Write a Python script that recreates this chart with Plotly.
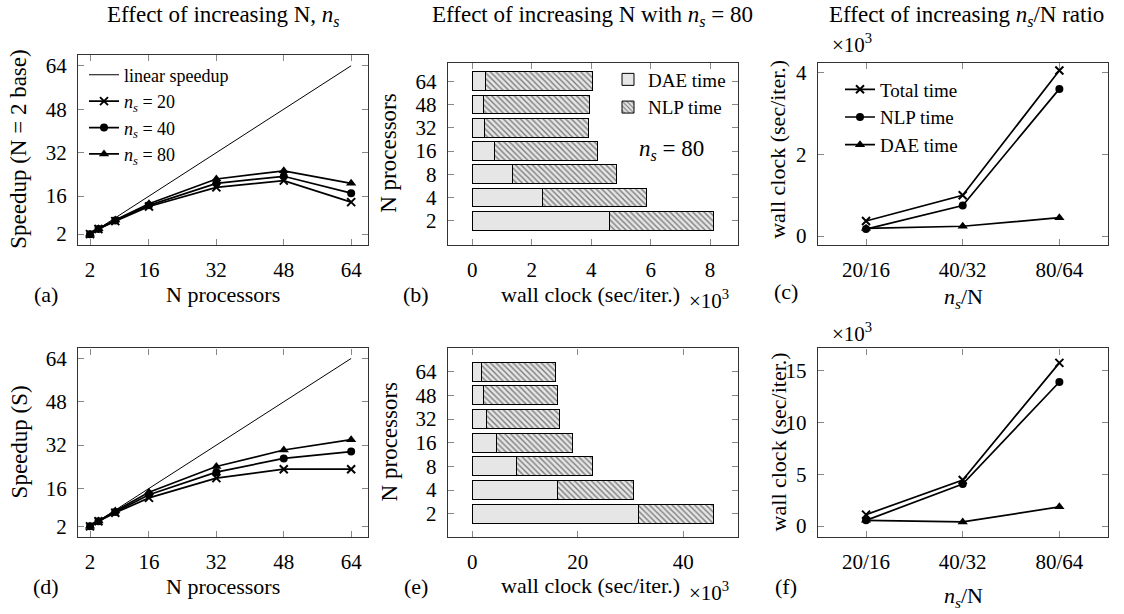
import plotly.graph_objects as go

# ---------------- data ----------------
N_proc = [2, 4, 8, 16, 32, 48, 64]
N_labels = ["2", "4", "8", "16", "32", "48", "64"]
linear_speedup = [2, 4, 8, 16, 32, 48, 64]

# (a) speedup, N = 2 base
speedup_a_ns20 = [2, 3.9, 6.8, 12.2, 19.2, 21.7, 13.8]
speedup_a_ns40 = [2, 3.9, 7.0, 12.6, 20.7, 23.3, 17.1]
speedup_a_ns80 = [2, 4.0, 7.2, 13.2, 22.3, 25.3, 20.7]

# (d) speedup (S)
speedup_d_ns20 = [2, 3.9, 7.0, 12.5, 19.8, 23.1, 23.1]
speedup_d_ns40 = [2, 3.9, 7.3, 13.7, 22.0, 27.1, 29.6]
speedup_d_ns80 = [2, 4.0, 7.7, 14.6, 24.1, 30.2, 34.0]

# (b) wall clock x10^3 s/iter, n_s = 80
dae_b = [4.61, 2.37, 1.35, 0.73, 0.40, 0.36, 0.44]
nlp_b = [3.50, 3.50, 3.49, 3.48, 3.52, 3.59, 3.60]

# (e) wall clock x10^3 s/iter
dae_e = [31.5, 16.2, 8.4, 4.5, 2.6, 2.1, 1.8]
nlp_e = [14.2, 14.3, 14.3, 14.4, 14.0, 14.0, 13.9]

# (c), (f) ratio n_s/N
ratio_labels = ["20/16", "40/32", "80/64"]
total_c = [0.37, 1.00, 4.06]
nlp_c = [0.17, 0.75, 3.61]
dae_c = [0.19, 0.24, 0.45]
total_f = [1.10, 4.45, 15.75]
nlp_f = [0.55, 4.05, 13.90]
dae_f = [0.55, 0.40, 1.85]

# ---------------- styling ----------------
W, H = 1124, 614
FONT = "Liberation Serif"
BAR_FILL = "#e6e6e6"


def px(x):
    return x / W


def py(y):
    return 1 - y / H


fig = go.Figure()

line_w = 1.7
mk_x = dict(symbol="x-thin", size=8, color="black", line=dict(width=2, color="black"))
mk_o = dict(symbol="circle", size=8, color="black")
mk_t = dict(symbol="triangle-up", size=9, color="black")


def speed_traces(xa, ya, s20, s40, s80, show, legend):
    fig.add_trace(go.Scatter(x=N_proc, y=linear_speedup, mode="lines", name="linear speedup",
                             line=dict(color="black", width=1), xaxis=xa, yaxis=ya,
                             showlegend=show, legend=legend))
    for ys, mk, nm in [(s20, mk_x, "<i>n<sub>s</sub></i> = 20"),
                       (s40, mk_o, "<i>n<sub>s</sub></i> = 40"),
                       (s80, mk_t, "<i>n<sub>s</sub></i> = 80")]:
        fig.add_trace(go.Scatter(x=N_proc, y=ys, mode="lines+markers", name=nm,
                                 line=dict(color="black", width=line_w), marker=mk,
                                 xaxis=xa, yaxis=ya, showlegend=show, legend=legend))


def bar_traces(xa, ya, dae, nlp, show, legend):
    fig.add_trace(go.Bar(y=N_labels, x=dae, orientation="h", name="DAE time",
                         marker=dict(color=BAR_FILL, line=dict(color="black", width=1)),
                         width=0.81, xaxis=xa, yaxis=ya, showlegend=show, legend=legend))
    fig.add_trace(go.Bar(y=N_labels, x=nlp, orientation="h", name="NLP time",
                         marker=dict(color=BAR_FILL, line=dict(color="black", width=1),
                                     pattern=dict(shape="\\", fgcolor="#111111", bgcolor=BAR_FILL,
                                                  size=4, solidity=0.35)),
                         width=0.81, xaxis=xa, yaxis=ya, showlegend=show, legend=legend))


def ratio_traces(xa, ya, tot, nlp, dae, show, legend):
    for ys, mk, nm in [(tot, mk_x, "Total time"), (nlp, mk_o, "NLP time"), (dae, mk_t, "DAE time")]:
        fig.add_trace(go.Scatter(x=ratio_labels, y=ys, mode="lines+markers", name=nm,
                                 line=dict(color="black", width=line_w), marker=mk,
                                 xaxis=xa, yaxis=ya, showlegend=show, legend=legend))


speed_traces("x", "y", speedup_a_ns20, speedup_a_ns40, speedup_a_ns80, True, "legend")
bar_traces("x2", "y2", dae_b, nlp_b, True, "legend2")
ratio_traces("x3", "y3", total_c, nlp_c, dae_c, True, "legend3")
speed_traces("x4", "y4", speedup_d_ns20, speedup_d_ns40, speedup_d_ns80, False, "legend")
bar_traces("x5", "y5", dae_e, nlp_e, False, "legend2")
ratio_traces("x6", "y6", total_f, nlp_f, dae_f, False, "legend3")

axis_common = dict(showline=True, mirror="ticks", linecolor="#333333", linewidth=1.2,
                   ticks="inside", ticklen=6, tickcolor="#888888", tickwidth=1,
                   showgrid=False, zeroline=False, ticklabelstandoff=6,
                   tickfont=dict(family=FONT, size=21, color="black"))

cat_y = dict(type="category", tickmode="array", tickvals=N_labels, ticktext=N_labels)
cat_x = dict(type="category", tickmode="array", tickvals=ratio_labels, ticktext=ratio_labels)

colL = [px(78), px(368)]
colM = [px(447.7), px(737.7)]
colR = [px(817.7), px(1107.7)]
topA = [py(245), py(53.3)]
topBC = [py(245), py(61.7)]
bot = [py(539.3), py(349.3)]

fig.update_layout(
    width=W, height=H, margin=dict(l=0, r=0, t=0, b=0),
    paper_bgcolor="white", plot_bgcolor="white",
    barmode="stack", font=dict(family=FONT, color="black", size=20),
    xaxis=dict(axis_common, domain=colL, range=[-0.85, 68.0], tickvals=[2, 16, 32, 48, 64], anchor="y"),
    yaxis=dict(axis_common, domain=topA, range=[-2.0, 68.0], tickvals=[2, 16, 32, 48, 64], anchor="x"),
    xaxis2=dict(axis_common, domain=colM, range=[-0.83, 8.93], tickvals=[0, 2, 4, 6, 8], anchor="y2"),
    yaxis2=dict(axis_common, **cat_y, domain=topBC, range=[-1.04, 6.78], anchor="x2"),
    xaxis3=dict(axis_common, **cat_x, domain=colR, range=[-0.5, 2.5], anchor="y3"),
    yaxis3=dict(axis_common, domain=topBC, range=[-0.22, 4.24], tickvals=[0, 2, 4], anchor="x3"),
    xaxis4=dict(axis_common, domain=colL, range=[-0.85, 68.0], tickvals=[2, 16, 32, 48, 64], anchor="y4"),
    yaxis4=dict(axis_common, domain=bot, range=[-1.9, 67.7], tickvals=[2, 16, 32, 48, 64], anchor="x4"),
    xaxis5=dict(axis_common, domain=colM, range=[-4.66, 50.3], tickvals=[0, 20, 40], anchor="y5"),
    yaxis5=dict(axis_common, **cat_y, domain=bot, range=[-0.98, 6.98], anchor="x5"),
    xaxis6=dict(axis_common, **cat_x, domain=colR, range=[-0.5, 2.5], anchor="y6"),
    yaxis6=dict(axis_common, domain=bot, range=[-1.05, 17.14], tickvals=[0, 5, 10, 15], anchor="x6"),
    legend=dict(x=px(84), y=py(55), xanchor="left", yanchor="top", bgcolor="rgba(0,0,0,0)",
                font=dict(family=FONT, size=18), tracegroupgap=0, itemwidth=30, traceorder="normal"),
    legend2=dict(x=px(608), y=py(59), xanchor="left", yanchor="top", bgcolor="rgba(0,0,0,0)",
                 font=dict(family=FONT, size=19), tracegroupgap=0, itemwidth=30, traceorder="normal"),
    legend3=dict(x=px(840), y=py(69), xanchor="left", yanchor="top", bgcolor="rgba(0,0,0,0)",
                 font=dict(family=FONT, size=19), tracegroupgap=0, itemwidth=30, traceorder="normal"),
)

ann = []


def A(text, x, y, size=22, angle=0, xanchor="center"):
    ann.append(dict(text=text, x=px(x), y=py(y), xref="paper", yref="paper", showarrow=False,
                    xanchor=xanchor, yanchor="middle", textangle=angle,
                    font=dict(family=FONT, size=size, color="black")))


ns = "<i>n<sub>s</sub></i>"
# titles
A("Effect of increasing N, " + ns, 223, 14, 23)
A("Effect of increasing N with " + ns + " = 80", 592.7, 14, 23)
A("Effect of increasing " + ns + "/N ratio", 966, 14, 23)
# x labels
A("(a)", 46, 295)
A("N processors", 223, 295)
A("(b)", 416, 295)
A("wall clock (sec/iter.)", 590, 295)
A("×10<sup>3</sup>", 709, 300, 21)
A("(c)", 786, 292)
A(ns + "/N", 963, 298)
A("(d)", 46, 589)
A("N processors", 223, 589)
A("(e)", 416, 589)
A("wall clock (sec/iter.)", 590, 588)
A("×10<sup>3</sup>", 709, 594, 21)
A("(f)", 786, 589)
A(ns + "/N", 963, 600)
# y labels
A("Speedup (N = 2 base)", 19, 149, 23, -90)
A("N processors", 389, 153, 23, -90)
A("wall clock (sec/iter.)", 778, 149, 22, -90)
A("Speedup (S)", 19, 444, 23, -90)
A("N processors", 389, 444, 23, -90)
A("wall clock (sec/iter.)", 778, 444, 22, -90)
# exponent labels
A("×10<sup>3</sup>", 852, 42, 21)
A("×10<sup>3</sup>", 852, 333, 21)
# n_s = 80 note in (b)
A(ns + " = 80", 671, 149, 23)

fig.update_layout(annotations=ann)

fig.write_html("out.html")
